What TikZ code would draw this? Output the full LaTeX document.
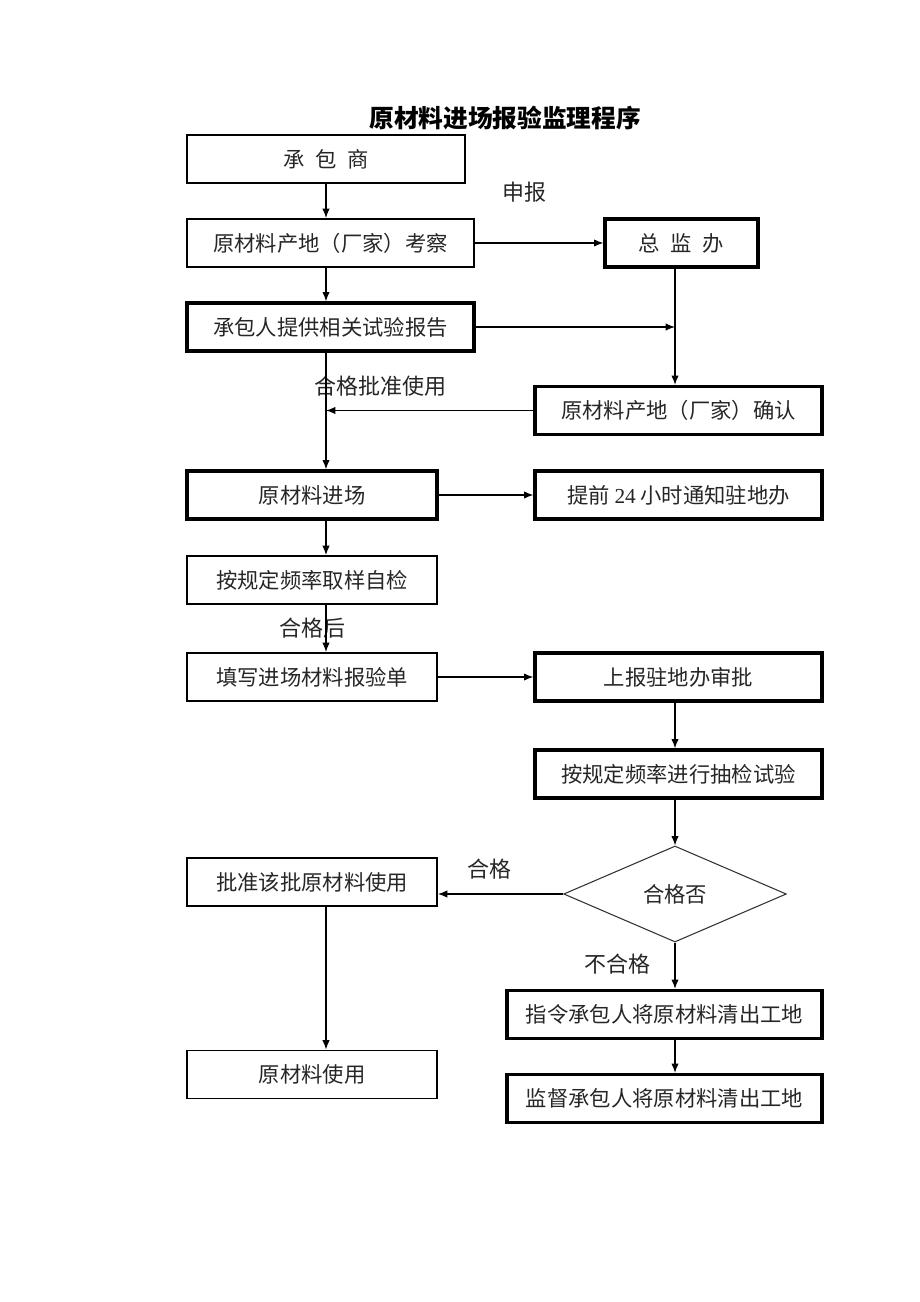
\documentclass[tikz,border=0pt]{standalone}
\usepackage{fontspec}
\setmainfont{Noto Sans CJK SC}
\newfontfamily\numfont{Liberation Serif}
\usetikzlibrary{arrows.meta,shapes.geometric}

\tikzset{
  thinbox/.style={draw, line width=1.4pt, minimum height=36pt, inner sep=0pt,
    text=black!85, font=\fontsize{16}{18}\selectfont},
  thickbox/.style={draw, line width=2.4pt, minimum height=36pt, inner sep=0pt,
    text=black!85, font=\fontsize{16}{18}\selectfont},
  flow/.style={-{Latex[length=7pt,width=5.5pt]}, line width=0.9pt},
  note/.style={text=black!85, font=\fontsize{16.5}{18}\selectfont},
}

\begin{document}
\begin{tikzpicture}[x=0.75pt, y=-0.75pt]
        \useasboundingbox (0,0) rectangle (920,1302);
        % columns of the vertical connectors
        \coordinate (lcol) at (326,0);
        \coordinate (rcol) at (675,0);
        \node[name=title, font=\fontsize{18.5}{20}\selectfont\bfseries] at (505,118) {原材料进场报验监理程序};
        % left column
        \node[thinbox, minimum width=208.5pt, name=chengbao] at (326,159) {承\enspace 包\enspace 商};
        \node[thinbox, minimum width=215.25pt, name=kaocha] at (330.5,243) {原材料产地（厂家）考察};
        \node[thickbox, minimum width=215.25pt, name=baogao] at (330.5,327) {承包人提供相关试验报告};
        \node[thickbox, minimum width=187.5pt, name=jinchang] at (312,495) {原材料进场};
        \node[thinbox, minimum width=187.5pt, name=zijian] at (312,580) {按规定频率取样自检};
        \node[thinbox, minimum width=187.5pt, name=baoyan] at (312,677) {填写进场材料报验单};
        \node[thinbox, minimum width=187.5pt, name=pizhun] at (312,882) {批准该批原材料使用};
        \node[thinbox, minimum width=187.5pt, name=shiyong] at (312,1074.5) {原材料使用};
        % right column
        \node[thickbox, minimum width=114.75pt, name=zongjian] at (681.5,243) {总\enspace 监\enspace 办};
        \node[thickbox, minimum width=215.25pt, name=queren] at (678.5,410.5) {原材料产地（厂家）确认};
        \node[thickbox, minimum width=215.25pt, name=tongzhi] at (678.5,495) {提前 {\numfont 24} 小时通知驻地办};
        \node[thickbox, minimum width=215.25pt, name=shangbao] at (678.5,677) {上报驻地办审批};
        \node[thickbox, minimum width=215.25pt, name=choujian] at (678.5,774) {按规定频率进行抽检试验};
        \node[draw, diamond, aspect=2.32, minimum width=167pt, minimum height=72pt, inner sep=0pt,
              line width=0.8pt, draw=black!80, text=black!85, font=\fontsize{16}{18}\selectfont,
              name=hege] at (675,894) {合格否};
        \node[thickbox, minimum width=236.25pt, name=zhiling] at (664.5,1014.5) {指令承包人将原材料清出工地};
        \node[thickbox, minimum width=236.25pt, name=jiandu] at (664.5,1098.5) {监督承包人将原材料清出工地};
        % labels
        \node[note, name=shenbao] at (524,192) {申报};
        \node[note, name=pizhunlbl] at (380,386) {合格批准使用};
        \node[note, name=hegehou] at (312,628) {合格后};
        \node[note, name=hegelbl] at (489,869) {合格};
        \node[note, name=buhege] at (617,964) {不合格};
        % connectors
        \draw[flow] (chengbao.south -| lcol) -- (kaocha.north -| lcol);
        \draw[flow] (kaocha.east) -- (zongjian.west);
        \draw[flow] (kaocha.south -| lcol) -- (baogao.north -| lcol);
        \draw[flow] (baogao.east) -- (baogao.east -| rcol);
        \draw[flow] (zongjian.south -| rcol) -- (queren.north -| rcol);
        \draw[flow] (queren.west) -- (queren.west -| lcol);
        \draw[flow] (baogao.south -| lcol) -- (jinchang.north -| lcol);
        \draw[flow] (jinchang.east) -- (tongzhi.west);
        \draw[flow] (jinchang.south -| lcol) -- (zijian.north -| lcol);
        \draw[flow] (zijian.south -| lcol) -- (baoyan.north -| lcol);
        \draw[flow] (baoyan.east) -- (shangbao.west);
        \draw[flow] (shangbao.south -| rcol) -- (choujian.north -| rcol);
        \draw[flow] (choujian.south -| rcol) -- (hege.north);
        \draw[flow] (hege.west) -- (hege.west -| pizhun.east);
        \draw[flow] (hege.south) -- (zhiling.north -| hege.south);
        \draw[flow] (zhiling.south -| hege.south) -- (jiandu.north -| hege.south);
        \draw[flow] (pizhun.south -| lcol) -- (shiyong.north -| lcol);
\end{tikzpicture}
\end{document}
